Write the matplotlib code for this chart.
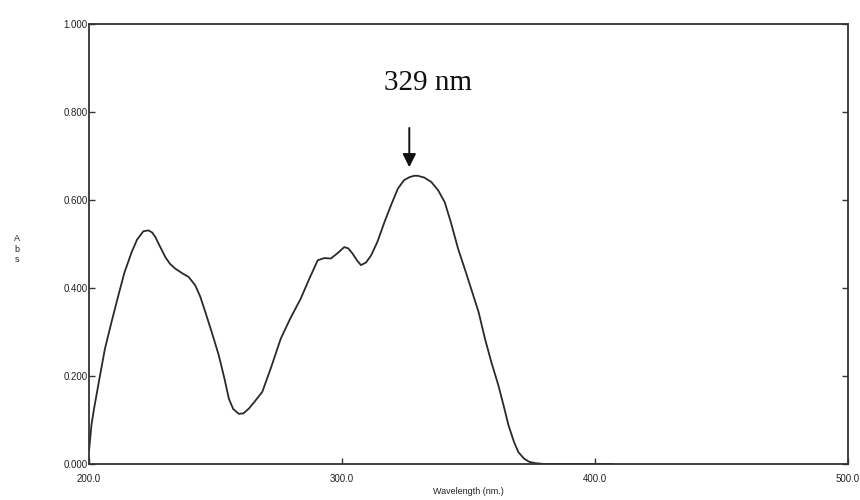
import matplotlib
matplotlib.use("Agg")
import matplotlib.pyplot as plt

wavelength = [200, 201, 202, 204, 206.3, 209, 211.6, 214, 216.9, 219, 221.5, 223.5, 225, 226.2, 228,
              230.2, 232, 234.1, 237, 239.4, 242, 244, 246, 248.5, 251.3, 253.5, 255.3, 257, 259.2, 261,
              263.2, 265.5, 268.5, 272, 275.8, 279.5, 283.7, 287, 290.4, 293, 295.6, 298, 300.9, 302.5,
              304.2, 306, 307.5, 309.5, 311.5, 314, 316.8, 319.5, 322.1, 324.5, 326.7, 328.5, 330, 332.5,
              335.3, 338, 340.6, 343, 345.9, 349, 351.9, 354, 356.5, 359, 361.8, 364, 365.8, 368, 369.7,
              372, 374, 376.3, 380, 390, 400, 407]
absorbance = [0.03, 0.09, 0.126, 0.19, 0.262, 0.325, 0.383, 0.435, 0.482, 0.51, 0.529, 0.531, 0.526, 0.516,
              0.495, 0.47, 0.455, 0.444, 0.433, 0.425, 0.406, 0.38, 0.345, 0.30, 0.247, 0.195, 0.148, 0.125,
              0.114, 0.115, 0.126, 0.142, 0.164, 0.22, 0.285, 0.33, 0.376, 0.42, 0.463, 0.468, 0.467, 0.478,
              0.493, 0.49, 0.478, 0.462, 0.452, 0.458, 0.474, 0.505, 0.55, 0.59, 0.626, 0.645, 0.652, 0.655,
              0.655, 0.651, 0.641, 0.622, 0.595, 0.55, 0.489, 0.435, 0.383, 0.345, 0.285, 0.232, 0.179, 0.13,
              0.088, 0.05, 0.027, 0.012, 0.005, 0.002, 0.0, 0.0, 0.0, 0.0]

x_ticks = [200.0, 300.0, 400.0, 500.0]
x_tick_labels = ["200.0", "300.0", "400.0", "500.0"]
y_ticks = [0.0, 0.2, 0.4, 0.6, 0.8, 1.0]
y_tick_labels = ["0.000", "0.200", "0.400", "0.600", "0.800", "1.000"]
peak_label = "329 nm"
peak_wavelength = 326.6
peak_arrow_tip = 0.668
peak_arrow_tail = 0.77

fig = plt.figure(figsize=(8.6, 5.0), dpi=100)
ax = fig.add_axes([89 / 860, 1 - 464 / 500, (848 - 89) / 860, (464 - 24) / 500])

ax.plot(wavelength, absorbance, color="#2a2a2a", lw=1.3, solid_joinstyle="round")
ax.set_xlim(200, 500)
ax.set_ylim(0, 1)

ax.set_xticks(x_ticks)
ax.set_xticklabels(x_tick_labels, fontsize=7, family="Liberation Sans", color="#222222")
ax.set_yticks(y_ticks)
ax.set_yticklabels(y_tick_labels, fontsize=7, family="Liberation Sans", color="#222222")
ax.tick_params(axis="both", direction="in", length=4, width=1, colors="#333333", labelcolor="#222222")
ax.tick_params(axis="y", pad=1, right=True)
ax.tick_params(axis="x", pad=7)

for s in ax.spines.values():
    s.set_linewidth(1.3)
    s.set_color("#333333")

ax.set_xlabel("Wavelength (nm.)", fontsize=6.5, family="Liberation Sans", color="#222222", labelpad=2)
fig.text(17 / 860, 1 - 249 / 500, "A\nb\ns", fontsize=6.5, family="Liberation Sans",
         ha="center", va="center", linespacing=1.2, color="#222222")

ax.annotate("", xy=(peak_wavelength, peak_arrow_tip), xytext=(peak_wavelength, peak_arrow_tail),
            arrowprops=dict(arrowstyle="-|>", color="#111111", lw=1.4, mutation_scale=20))
ax.text(334, 0.865, peak_label, fontsize=21, family="Liberation Serif", ha="center", va="center",
        color="#111111")

fig.savefig("out.png", dpi=100)
